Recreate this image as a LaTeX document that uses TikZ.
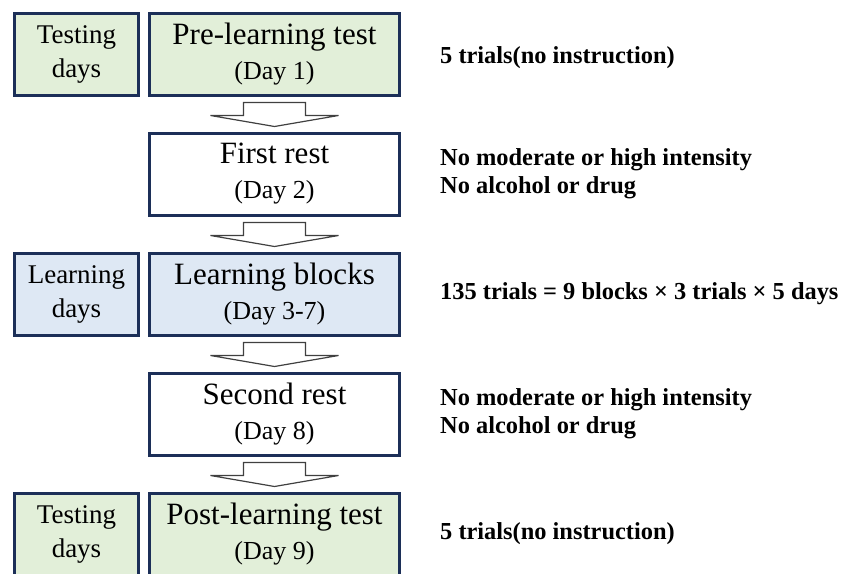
\documentclass[tikz,border=0pt]{standalone}
\usepackage{fontspec}
\setmainfont{Liberation Serif}
\usepackage{tikz}
\usetikzlibrary{positioning,calc}
\definecolor{darknavy}{HTML}{1C2F58}
\definecolor{testgreen}{HTML}{E2EFD9}
\definecolor{learnblue}{HTML}{DEE8F4}
\definecolor{arrowgray}{HTML}{404040}

\begin{document}
\begin{tikzpicture}[x=1pt,y=-1pt,
      stage/.style={
        shape=rectangle,
        draw=darknavy,
        line width=3pt,
        minimum width=250pt,
        minimum height=82pt,
        inner sep=0pt,
        align=center,
        font=\fontsize{31}{35}\selectfont,
      },
      days/.style={
        stage,
        minimum width=124pt,
        font=\fontsize{27}{34}\selectfont,
      },
      note/.style={
        anchor=west,
        inner sep=0pt,
        align=left,
        font=\bfseries\fontsize{24.4}{28}\selectfont,
      },
      flow/.pic={
        \draw[fill=white, draw=arrowgray, line width=1.2pt]
          (-31,-11.5) -- (31,-11.5) -- (31,1.5) -- (64,1.5) -- (0,12.5)
          -- (-64,1.5) -- (-31,1.5) -- cycle;
      }]
      \useasboundingbox (0,0) rectangle (843,573);
      % stages
      \node[stage, fill=testgreen] (pre) at (274.5,54) {Pre-learning test\\{\fontsize{26}{35}\selectfont (Day 1)}};
      \node[stage, fill=white] (rest1) at (274.5,174) {First rest\\{\fontsize{26}{35}\selectfont (Day 2)}};
      \node[stage, fill=learnblue] (learn) at (274.5,294) {Learning blocks\\{\fontsize{26}{35}\selectfont (Day 3-7)}};
      \node[stage, fill=white] (rest2) at (274.5,414) {Second rest\\{\fontsize{26}{35}\selectfont (Day 8)}};
      \node[stage, fill=testgreen] (post) at (274.5,534) {Post-learning test\\{\fontsize{26}{35}\selectfont (Day 9)}};
      % day labels
      \node[days, fill=testgreen] (testdays1) at (76.5,54) {Testing\\days};
      \node[days, fill=learnblue] (learndays) at (76.5,294) {Learning\\days};
      \node[days, fill=testgreen] (testdays2) at (76.5,534) {Testing\\days};
      % notes
      \node[note] (n1) at (440,58) {5 trials(no instruction)};
      \node[note] (n2) at (440,174) {No moderate or high intensity\\No alcohol or drug};
      \node[note] (n3) at (440,294) {135 trials = 9 blocks × 3 trials × 5 days};
      \node[note] (n4) at (440,414) {No moderate or high intensity\\No alcohol or drug};
      \node[note] (n5) at (440,534) {5 trials(no instruction)};
      % arrows
      \pic at ($(pre.south)!0.5!(rest1.north)$) {flow};
      \pic at ($(rest1.south)!0.5!(learn.north)$) {flow};
      \pic at ($(learn.south)!0.5!(rest2.north)$) {flow};
      \pic at ($(rest2.south)!0.5!(post.north)$) {flow};
    \end{tikzpicture}
\end{document}
